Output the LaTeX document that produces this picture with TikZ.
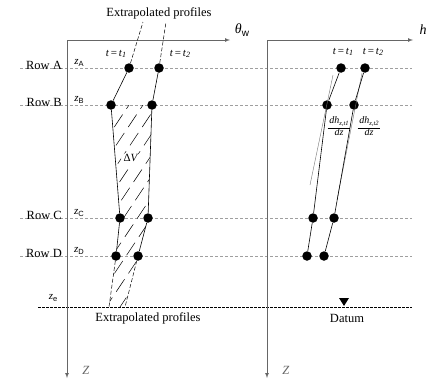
\documentclass[tikz,border=0pt]{standalone}
\usepackage{fontspec}
\setmainfont{Liberation Serif}
\newfontfamily\subfont{Liberation Sans}
\newcommand{\zsub}[1]{\textit{z}\raisebox{-0.3ex}{\subfont\fontsize{7.5}{8}\selectfont #1}}
\newcommand{\tsub}[1]{\textit{t}\,=\,\textit{t}\raisebox{-0.35ex}{\fontsize{8}{9}\selectfont\itshape #1}}
\begin{document}
\begin{tikzpicture}[
  x=1pt, y=-1pt, >=latex,
  dot/.style={circle, fill=black, inner sep=0pt, minimum size=9.5pt},
  rowline/.style={gray!75, dash pattern=on 3pt off 2pt, line width=0.6pt},
  extra/.style={dash pattern=on 4pt off 2pt, line width=0.5pt},
  axis/.style={->, black!60, line width=0.7pt},
  lbl/.style={font=\fontsize{12.5}{14}\selectfont, inner sep=0pt},
  small/.style={font=\fontsize{11}{12}\selectfont, inner sep=0pt},
  slope/.style={font=\fontsize{10}{11}\selectfont\itshape, inner sep=0pt, align=center},
  profile/.style={line width=0.6pt}
]
\useasboundingbox (0,0) rectangle (446,383);

% rows
\draw[rowline] (20,68) -- (412,68);
\draw[rowline] (20,105) -- (412,105);
\draw[rowline] (20,218) -- (412,218);
\draw[rowline] (20,256) -- (412,256);
\draw[dash pattern=on 2.5pt off 1.5pt, line width=0.6pt] (38,307) -- (412,307);

\node[lbl, anchor=south east] (rowa) at (62,70) {Row A};
\node[lbl, anchor=south east] (rowb) at (62,107) {Row B};
\node[lbl, anchor=south east] (rowc) at (62,220) {Row C};
\node[lbl, anchor=south east] (rowd) at (62,258) {Row D};
\node[small] (za) at (79,63) {\zsub{A}};
\node[small] (zb) at (79,100) {\zsub{B}};
\node[small] (zc) at (79,213) {\zsub{C}};
\node[small] (zd) at (79,251) {\zsub{D}};
\node[small] (ze) at (53,298) {\zsub{e}};

% axes
\draw[axis] (67,40) -- (67,378);
\draw[axis] (67,40) -- (230,40);
\draw[axis] (267,40) -- (267,378);
\draw[axis] (267,40) -- (413,40);
\node[lbl, font=\fontsize{14}{16}\selectfont] (thw) at (242,30) {\textit{θ}\raisebox{-0.4ex}{\subfont\fontsize{10}{11}\selectfont w}};
\node[lbl, font=\fontsize{14}{16}\selectfont] (hlab) at (423,30) {\textit{h}};
\node[lbl, black!60] (zl) at (86,370) {\textit{Z}};
\node[lbl, black!60] (zr) at (286,370) {\textit{Z}};

% left panel
\coordinate (e1) at (109,307);
\coordinate (e2) at (125,307);
\coordinate (x1) at (143,22);
\coordinate (x2) at (166,22);
\node[dot] (a1) at (129,68) {};
\node[dot] (a2) at (159,68) {};
\node[dot] (b1) at (111,105) {};
\node[dot] (b2) at (152,105) {};
\node[dot] (c1) at (120,218) {};
\node[dot] (c2) at (148,218) {};
\node[dot] (d1) at (116,256) {};
\node[dot] (d2) at (138,256) {};

\begin{scope}
  \clip (b1.center) -- (c1.center) -- (d1.center) -- (e1) -- (e2) -- (d2.center) -- (c2.center) -- (b2.center) -- cycle;
  \foreach \s in {-120,-106,...,170}
    \draw[line width=0.5pt, dash pattern=on 15pt off 7pt] (\s,310) -- (\s+147,90);
\end{scope}
\fill[white] (131,158) ellipse (10pt and 6pt);
\node[small] (dv) at (131,158) {Δ\textit{V}};

\draw[profile] (a1) -- (b1) -- (c1) -- (d1);
\draw[profile] (a2) -- (b2) -- (c2) -- (d2);
\draw[extra] (d1) -- (e1);
\draw[extra] (d2) -- (e2);
\draw[extra] (a1) -- (x1);
\draw[extra] (a2) -- (x2);

\node[lbl] (ext1) at (159,13) {Extrapolated profiles};
\node[lbl] (ext2) at (148,318) {Extrapolated profiles};
\node[small] (t1l) at (116,54) {\tsub{1}};
\node[small] (t2l) at (180,54) {\tsub{2}};

% right panel
\node[dot] (ra1) at (341,68) {};
\node[dot] (ra2) at (365,68) {};
\node[dot] (rb1) at (327,105) {};
\node[dot] (rb2) at (354,105) {};
\node[dot] (rc1) at (313,218) {};
\node[dot] (rc2) at (334,218) {};
\node[dot] (rd1) at (307,256) {};
\node[dot] (rd2) at (324,256) {};

\coordinate (g1) at (333,75);
\coordinate (h1) at (310,185);
\coordinate (g2) at (362,73);
\coordinate (h2) at (337,200);
\draw[black!55, line width=0.4pt] (g1) -- (h1);
\draw[black!55, line width=0.4pt] (g2) -- (h2);

\draw[profile] (ra1) -- (rb1) -- (rc1) -- (rd1);
\draw[profile] (ra2) -- (rb2) -- (rc2) -- (rd2);

\node[small] (rt1) at (343,52) {\tsub{1}};
\node[small] (rt2) at (373,52) {\tsub{2}};
\node[slope] (sl1) at (339,126)
  {\underline{\,dh\raisebox{-0.4ex}{\fontsize{6.5}{7}\selectfont z,t1}\,}\\[-1pt]dz};
\node[slope] (sl2) at (369,126)
  {\underline{\,dh\raisebox{-0.4ex}{\fontsize{6.5}{7}\selectfont z,t2}\,}\\[-1pt]dz};

\fill (339,298) -- (349,298) -- (344,306) -- cycle;
\node[lbl] (datum) at (347,318) {Datum};
\end{tikzpicture}
\end{document}
